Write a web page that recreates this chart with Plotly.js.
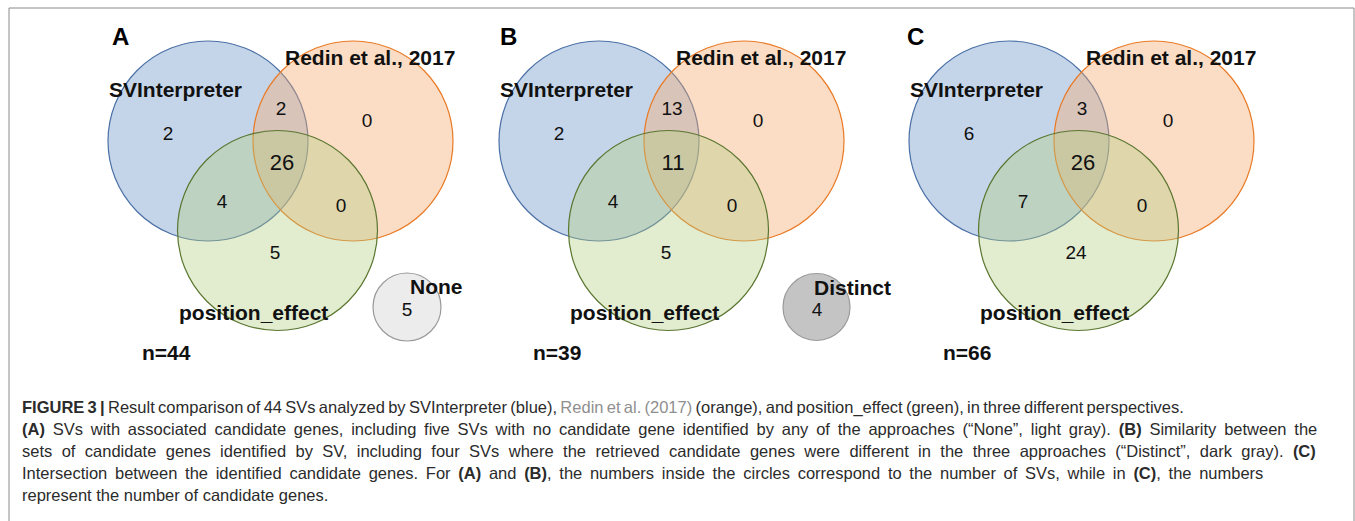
<!DOCTYPE html>
<html><head><meta charset="utf-8">
<script src="https://cdn.plot.ly/plotly-3.0.1.min.js"></script>
<style>html,body{margin:0;padding:0;background:#fff;} #chart{width:1355px;height:521px;}</style>
</head><body><div id="chart"></div>
<script>
// ---------- data ----------
const panelLetters = ['A', 'B', 'C'];
const setNames = ['SVInterpreter', 'Redin et al., 2017', 'position_effect'];
// region order: SV only, Redin only, PE only, SV&Redin, SV&PE, Redin&PE, all three
const countsA = [2, 0, 5, 2, 4, 0, 26];
const countsB = [2, 0, 5, 13, 4, 0, 11];
const countsC = [6, 0, 24, 3, 7, 0, 26];
const extraNames = ['None', 'Distinct', null];
const extraCounts = [5, 4, null];
const totals = [44, 39, 66];
const captionLines = [
  '<b>FIGURE 3 |</b> Result comparison of 44 SVs analyzed by SVInterpreter (blue), <span style="color:#8f8f8f">Redin et al. (2017)</span> (orange), and position_effect (green), in three different perspectives.',
  '<b>(A)</b> SVs with associated candidate genes, including five SVs with no candidate gene identified by any of the approaches (\u201cNone\u201d, light gray). <b>(B)</b> Similarity between the',
  'sets of candidate genes identified by SV, including four SVs where the retrieved candidate genes were different in the three approaches (\u201cDistinct\u201d, dark gray). <b>(C)</b>',
  'Intersection between the identified candidate genes. For <b>(A)</b> and <b>(B)</b>, the numbers inside the circles correspond to the number of SVs, while in <b>(C)</b>, the numbers',
  'represent the number of candidate genes.'
];

// ---------- layout geometry & styles ----------
const W = 1355, H = 521;
const allCounts = [countsA, countsB, countsC];
const panelX = [0, 391, 801];
const letterX = [110, 498, 905];
const circ = [{cx: 208, cy: 141, r: 100}, {cx: 353, cy: 141, r: 100}, {cx: 277.5, cy: 230.5, r: 100}];
const circFill = ['rgba(110,150,200,0.4)', 'rgba(245,170,110,0.4)', 'rgba(180,205,130,0.38)'];
const circLine = ['#4b70a6', '#e97a26', '#5a7630'];
const regionXY = [[168, 135], [367, 122], [275, 254], [281, 110], [222, 203], [341, 207], [282, 164]];
const regionSize = [19, 19, 19, 19, 19, 19, 22];
const setLabelXY = [[107, 89], [283, 57], [177, 312]];
const extraGeom = [
  {cx: 407, cy: 307, r: 34, lx: 408, ly: 286, nx: 407, ny: 311, fill: '#ececec'},
  {cx: 425.5, cy: 307, r: 33.5, lx: 421, ly: 287, nx: 426, ny: 311, fill: '#c4c4c4'}
];
const FONT = '"Liberation Sans", Arial, Helvetica, sans-serif';
const capY = [407, 429, 451, 473, 495];
const capWordSpacing = [-1.3, 3.2, 4.8, 3.1, 0];

const shapes = [];
const annotations = [];
const traces = [];

// outer frame
shapes.push({type: 'rect', xref: 'x', yref: 'y', x0: 9, x1: 1354, y0: 8, y1: 560,
  line: {color: '#8a8a8a', width: 1}, fillcolor: 'rgba(0,0,0,0)', layer: 'below'});

panelLetters.forEach((letter, p) => {
  const ox = panelX[p];
  circ.forEach((c, i) => {
    shapes.push({type: 'circle', xref: 'x', yref: 'y', layer: 'below',
      x0: ox + c.cx - c.r, x1: ox + c.cx + c.r, y0: c.cy - c.r, y1: c.cy + c.r,
      fillcolor: circFill[i], line: {color: circLine[i], width: 1.2}});
  });
  if (extraNames[p]) {
    const e = extraGeom[p];
    shapes.push({type: 'circle', xref: 'x', yref: 'y', layer: 'below',
      x0: ox + e.cx - e.r, x1: ox + e.cx + e.r, y0: e.cy - e.r, y1: e.cy + e.r,
      fillcolor: e.fill, line: {color: '#9a9a9a', width: 1.2}});
  }
  // counts
  const counts = allCounts[p];
  const xs = regionXY.map(q => ox + q[0]);
  const ys = regionXY.map(q => q[1]);
  const sizes = regionSize.slice();
  const txt = counts.map(String);
  if (extraNames[p]) {
    xs.push(ox + extraGeom[p].nx); ys.push(extraGeom[p].ny);
    sizes.push(19); txt.push(String(extraCounts[p]));
  }
  traces.push({type: 'scatter', mode: 'text', x: xs, y: ys, text: txt,
    textposition: 'middle center', hoverinfo: 'skip', showlegend: false,
    textfont: {family: FONT, size: sizes, color: '#111'}});

  // panel letter
  annotations.push({x: letterX[p], y: 36, xref: 'x', yref: 'y', text: letter, showarrow: false,
    xanchor: 'left', yanchor: 'middle', font: {family: FONT, size: 24, color: '#000', weight: 'bold'}});
  // set labels
  setNames.forEach((nm, i) => {
    annotations.push({x: ox + setLabelXY[i][0], y: setLabelXY[i][1], xref: 'x', yref: 'y', text: nm,
      showarrow: false, xanchor: 'left', yanchor: 'middle',
      font: {family: FONT, size: 21, color: '#111', weight: 'bold'}});
  });
  if (extraNames[p]) {
    const e = extraGeom[p];
    annotations.push({x: ox + e.lx, y: e.ly, xref: 'x', yref: 'y', text: extraNames[p],
      showarrow: false, xanchor: 'left', yanchor: 'middle',
      font: {family: FONT, size: 21, color: '#111', weight: 'bold'}});
  }
  annotations.push({x: ox + 140, y: 352, xref: 'x', yref: 'y', text: 'n=' + totals[p],
    showarrow: false, xanchor: 'left', yanchor: 'middle',
    font: {family: FONT, size: 21, color: '#111', weight: 'bold'}});
});

// caption
captionLines.forEach((line, i) => {
  const t = capWordSpacing[i] ? '<span style="word-spacing:' + capWordSpacing[i] + 'px">' + line + '</span>' : line;
  annotations.push({x: 20, y: capY[i], xref: 'x', yref: 'y', text: t, showarrow: false,
    xanchor: 'left', yanchor: 'middle', align: 'left',
    font: {family: FONT, size: 16.5, color: '#2b2b2b'}});
});

const layout = {
  width: W, height: H, margin: {l: 0, r: 0, t: 0, b: 0},
  paper_bgcolor: '#fff', plot_bgcolor: '#fff',
  xaxis: {range: [0, W], visible: false, fixedrange: true},
  yaxis: {range: [H, 0], visible: false, fixedrange: true},
  shapes: shapes, annotations: annotations, showlegend: false
};
Plotly.newPlot('chart', traces, layout, {displayModeBar: false, staticPlot: true});
</script>
</body></html>
